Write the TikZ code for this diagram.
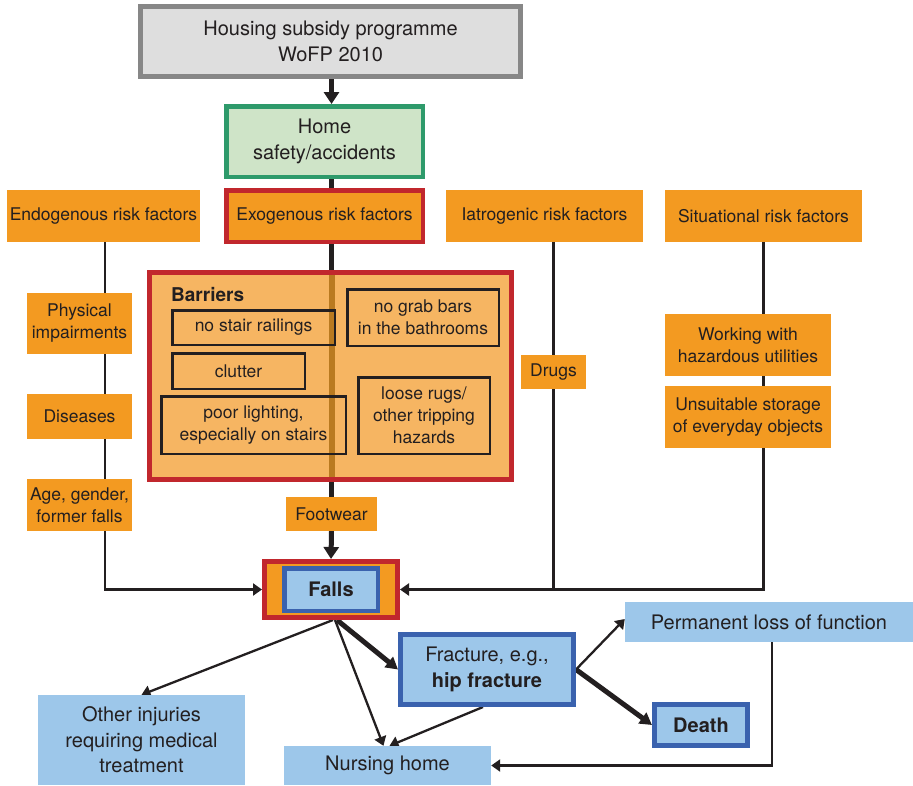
\documentclass[tikz,border=0pt]{standalone}
\usepackage{fontspec}
\setmainfont{TeX Gyre Heros}
\usetikzlibrary{arrows.meta,backgrounds}
\definecolor{ink}{HTML}{231F20}
\definecolor{orangeC}{HTML}{F39A21}
\definecolor{lorange}{HTML}{F6B562}
\definecolor{brownC}{HTML}{B97A20}
\definecolor{redC}{HTML}{C1272D}
\definecolor{greenC}{HTML}{2E9A6B}
\definecolor{lgreen}{HTML}{CFE4C8}
\definecolor{grayC}{HTML}{878787}
\definecolor{lgray}{HTML}{DEDEDE}
\definecolor{blueC}{HTML}{3A62AE}
\definecolor{lblue}{HTML}{9DC7EA}
\begin{document}
\begin{tikzpicture}[x=1pt,y=-1pt,
  box/.style={rectangle, inner sep=0pt, align=center, text=ink, font=\fontsize{17.5}{22}\selectfont},
  bigbox/.style={box, font=\fontsize{20}{25.5}\selectfont},
  orangebox/.style={box, fill=orangeC},
  barbox/.style={box, draw=ink, line width=2.5pt},
  bluebox/.style={bigbox, fill=lblue},
  blueframe/.style={bigbox, fill=lblue, draw=blueC, line width=5pt},
  conn/.style={draw=ink, line width=2.3pt},
  thinarrow/.style={conn, -{Triangle[length=9pt,width=12pt]}},
  mainline/.style={draw=ink, line width=5pt},
  thickarrow/.style={mainline, -{Triangle[length=12pt,width=15pt]}},
  heavyarrow/.style={draw=ink, line width=5pt, -{Triangle[length=12pt,width=13pt]}}
]
\useasboundingbox (0,0) rectangle (913,785);

% top
\node[bigbox, fill=lgray, draw=grayC, line width=5pt, minimum width=380pt, minimum height=70pt] (housing) at (330.5,41.5) {Housing subsidy programme\\WoFP 2010};
\node[bigbox, fill=lgreen, draw=greenC, line width=4.5pt, minimum width=196.5pt, minimum height=70.5pt] (home) at (324.5,141.5) {Home\\safety/accidents};

% risk factor headers
\node[orangebox, minimum width=193pt, minimum height=52pt] (endo) at (103.5,216) {Endogenous risk factors};
\node[orangebox, draw=redC, line width=4.5pt, minimum width=196.5pt, minimum height=51.5pt] (exo) at (324.5,216) {Exogenous risk factors};
\node[orangebox, minimum width=197pt, minimum height=52pt] (iat) at (544.5,216) {Iatrogenic risk factors};
\node[orangebox, minimum width=197pt, minimum height=52pt] (sit) at (763.5,216) {Situational risk factors};

% endogenous
\node[orangebox, minimum width=105pt, minimum height=61pt] (phys) at (79.5,323.5) {Physical\\impairments};
\node[orangebox, minimum width=105pt, minimum height=45pt] (dis) at (79.5,416.5) {Diseases};
\node[orangebox, minimum width=105pt, minimum height=52pt] (age) at (79.5,505) {Age, gender,\\former falls};

\node[orangebox, minimum width=91pt, minimum height=34pt] (foot) at (331.5,514) {Footwear};

% barriers
\node[box, fill=lorange, draw=redC, line width=5pt, minimum width=362pt, minimum height=207pt] (barriers) at (330.5,376) {};
\draw[brownC, line width=6pt, shorten <=5pt, shorten >=5pt] (barriers.north -| foot.north) -- (barriers.south -| foot.north);
\node[box, anchor=west, font=\fontsize{19}{22}\selectfont\bfseries] (barlabel) at (171,295) {Barriers};
\node[barbox, minimum width=162.5pt, minimum height=34.5pt] (rail) at (253.5,327.5) {no stair railings};
\node[barbox, minimum width=132.5pt, minimum height=35.5pt] (clutter) at (238.5,371) {clutter};
\node[barbox, minimum width=184.5pt, minimum height=57.5pt] (light) at (253.5,425) {poor lighting,\\especially on stairs};
\node[barbox, minimum width=151.5pt, minimum height=56.5pt] (grab) at (423,317.5) {no grab bars\\in the bathrooms};
\node[barbox, minimum width=131.5pt, minimum height=76.5pt] (rugs) at (424,415.5) {loose rugs/\\other tripping\\hazards};

% iatrogenic / situational
\node[orangebox, minimum width=65pt, minimum height=34pt] (drugs) at (553.5,372) {Drugs};
\node[orangebox, minimum width=166pt, minimum height=62pt] (work) at (748,345) {Working with\\hazardous utilities};
\node[orangebox, minimum width=166pt, minimum height=62pt] (store) at (748,417) {Unsuitable storage\\of everyday objects};

% falls
\node[box, fill=orangeC, draw=redC, line width=5pt, minimum width=133pt, minimum height=56pt] (fallsout) at (331,589.5) {};
\node[blueframe, line width=4.5pt, minimum width=93.5pt, minimum height=42.5pt, font=\fontsize{20}{24}\selectfont\bfseries] (falls) at (331,589.5) {Falls};

% outcomes
\node[bluebox, minimum width=288pt, minimum height=40pt] (perm) at (769,622) {Permanent loss of function};
\node[blueframe, minimum width=173pt, minimum height=70pt] (frac) at (487,669.5) {Fracture, e.g.,\\\textbf{hip fracture}};
\node[blueframe, minimum width=93pt, minimum height=41pt, font=\fontsize{20}{24}\selectfont\bfseries] (death) at (701,725) {Death};
\node[bluebox, minimum width=207pt, minimum height=90pt] (other) at (141.5,740) {Other injuries\\requiring medical\\treatment};
\node[bluebox, minimum width=207pt, minimum height=39pt] (nursing) at (387.5,765.5) {Nursing home};

% connectors
\begin{scope}[on background layer]
  \draw[thickarrow] (housing.south -| foot.north) -- (home.north -| foot.north);
  \draw[mainline] (home.south -| foot.north) -- (foot.north);
  \draw[thickarrow] (foot.south) -- (fallsout.north);
  \draw[thinarrow] (endo.south -| 105,0) |- (fallsout.west);
  \draw[conn] (iat.south -| drugs.center) -- (drugs.center |- fallsout.east);
  \draw[thinarrow] (sit.south) |- (fallsout.east);
  \draw[thinarrow] ([xshift=2pt]fallsout.south) -- (other.north);
  \draw[thinarrow] ([xshift=4pt]fallsout.south) -- ([xshift=-4pt]nursing.north);
  \draw[heavyarrow] ([xshift=6pt]fallsout.south) -- (frac.west);
  \draw[thinarrow] ([xshift=-4pt]frac.south) -- ([xshift=2pt]nursing.north);
  \draw[thinarrow] (frac.east) -- ([yshift=3pt]perm.west);
  \draw[heavyarrow] (frac.east) -- (death.west);
  \draw[thinarrow] ([xshift=3pt]perm.south) |- (nursing.east);
\end{scope}
\end{tikzpicture}
\end{document}
